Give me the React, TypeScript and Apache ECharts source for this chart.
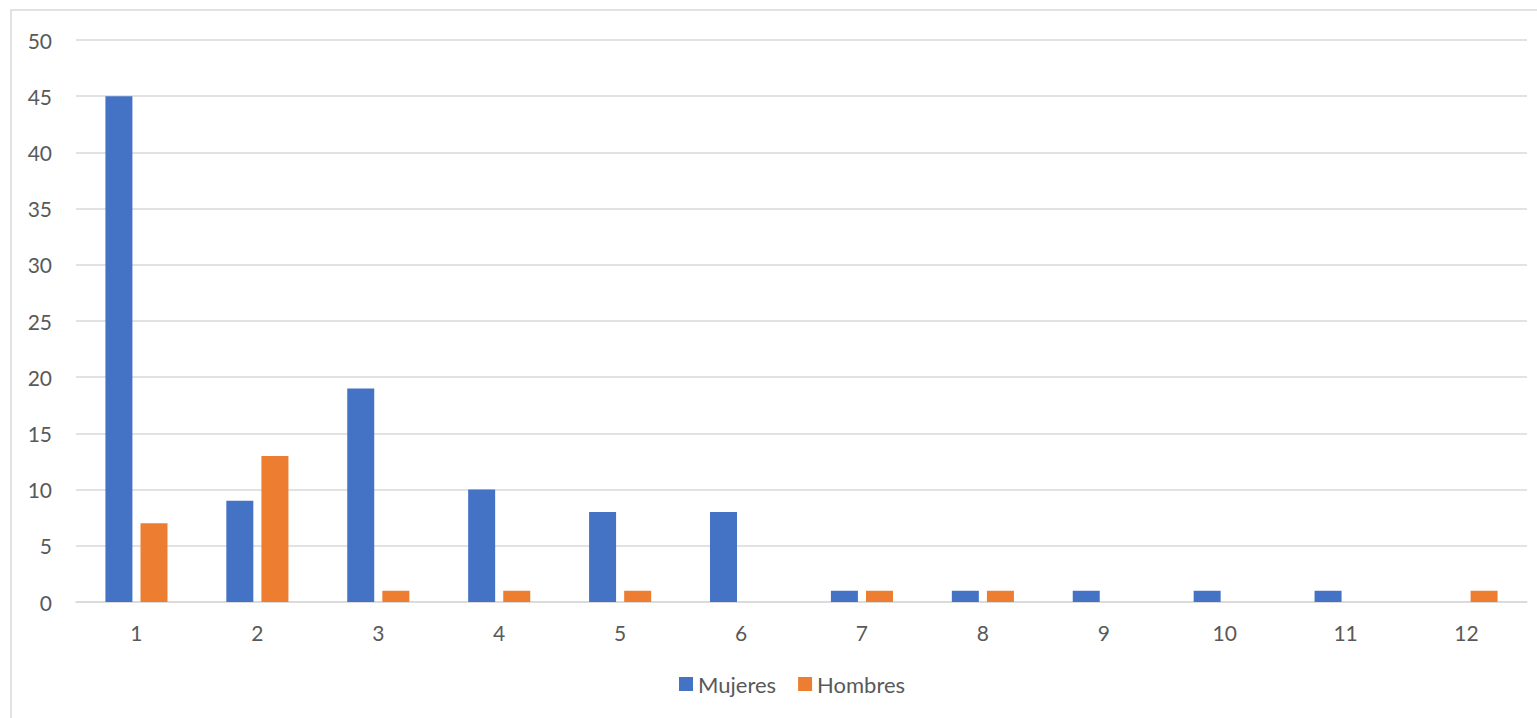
import React, { useEffect, useRef } from "react";
import * as echarts from "echarts";

const categories = ["1", "2", "3", "4", "5", "6", "7", "8", "9", "10", "11", "12"];
const mujeres = [45, 9, 19, 10, 8, 8, 1, 1, 1, 1, 1, 0];
const hombres = [7, 13, 1, 1, 1, 0, 1, 1, 0, 0, 0, 1];

const FONT = "Lato, 'Open Sans', sans-serif";
const TEXT = "#595959";
const GRID = "#D9D9D9";

export default function App() {
  const ref = useRef<HTMLDivElement>(null);

  useEffect(() => {
    document.body.style.margin = "0";
    if (!ref.current) return;
    const chart = echarts.init(ref.current, undefined, { renderer: "svg" });
    chart.setOption({
      animation: false,
      backgroundColor: "#ffffff",
      textStyle: { fontFamily: FONT },
      graphic: [
        {
          type: "rect",
          shape: { x: 11, y: 10, width: 1600, height: 800 },
          style: { fill: "none", stroke: GRID, lineWidth: 1.5 },
          silent: true,
        },
      ],
      grid: { left: 76, right: 10, top: 40, bottom: 116, containLabel: false },
      legend: {
        bottom: 18,
        left: 674,
        itemWidth: 14,
        itemHeight: 14,
        itemGap: 22,
        icon: "rect",
        textStyle: { color: TEXT, fontSize: 22, fontFamily: FONT },
        data: ["Mujeres", "Hombres"],
      },
      xAxis: {
        type: "category",
        data: categories,
        axisLine: { lineStyle: { color: GRID, width: 1.5 } },
        axisTick: { show: false },
        axisLabel: { color: TEXT, fontSize: 21, margin: 20, fontFamily: FONT },
      },
      yAxis: {
        type: "value",
        min: 0,
        max: 50,
        interval: 5,
        axisLine: { show: false },
        axisTick: { show: false },
        splitLine: { lineStyle: { color: GRID, width: 1.5 } },
        axisLabel: { color: TEXT, fontSize: 21, margin: 24, fontFamily: FONT },
      },
      series: [
        {
          name: "Mujeres",
          type: "bar",
          data: mujeres,
          itemStyle: { color: "#4472C4" },
          barWidth: 27,
          barGap: "30%",
        },
        {
          name: "Hombres",
          type: "bar",
          data: hombres,
          itemStyle: { color: "#ED7D31" },
          barWidth: 27,
          barGap: "30%",
        },
      ],
    });
    return () => chart.dispose();
  }, []);

  return <div ref={ref} style={{ width: 1537, height: 718 }} />;
}
